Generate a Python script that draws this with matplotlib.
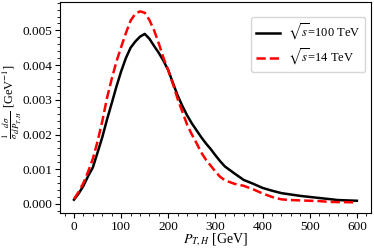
import matplotlib
matplotlib.use("Agg")
import matplotlib.pyplot as plt
from matplotlib.ticker import AutoMinorLocator

plt.rcParams['font.family'] = ['Liberation Serif', 'DejaVu Serif']
plt.rcParams['mathtext.fontset'] = 'stix'

# P_T,H bins [GeV]
pt = [0, 10, 20, 30, 40, 50, 60, 70, 80, 90, 100, 110, 120, 130, 140, 150,
      160, 170, 180, 190, 200, 210, 220, 230, 240, 250, 260, 270, 280, 290,
      300, 310, 320, 340, 360, 380, 400, 420, 440, 460, 480, 500, 520, 540,
      560, 580, 600]

# sqrt(s) = 100 TeV
dist_100 = [0.00012, 0.00030, 0.00052, 0.00080, 0.00105, 0.00148, 0.00192,
            0.00243, 0.00290, 0.00338, 0.00382, 0.00420, 0.00450, 0.00468,
            0.00482, 0.00490, 0.00476, 0.00455, 0.00435, 0.00412, 0.00385,
            0.00348, 0.00312, 0.00282, 0.00255, 0.00232, 0.00212, 0.00192,
            0.00174, 0.00158, 0.00140, 0.00123, 0.00108, 0.00088, 0.00069,
            0.00058, 0.00046, 0.00038, 0.00031, 0.00027, 0.00023, 0.00020,
            0.00017, 0.00014, 0.00011, 0.00010, 0.00009]

# sqrt(s) = 14 TeV
dist_14 = [0.00014, 0.00035, 0.00060, 0.00093, 0.00130, 0.00180, 0.00238,
           0.00305, 0.00360, 0.00410, 0.00452, 0.00492, 0.00528, 0.00548,
           0.00555, 0.00551, 0.00530, 0.00500, 0.00462, 0.00420, 0.00385,
           0.00345, 0.00302, 0.00265, 0.00228, 0.00200, 0.00175, 0.00148,
           0.00127, 0.00110, 0.00093, 0.00078, 0.00068, 0.00058, 0.00052,
           0.00042, 0.00030, 0.00020, 0.00013, 0.00011, 0.00010, 0.00009,
           0.00008, 0.00006, 0.00005, 0.00005, 0.00004]

fig = plt.figure(figsize=(3.74, 2.49), dpi=100)
ax = fig.add_axes([0.160, 0.145, 0.832, 0.847])

ax.plot(pt, dist_100, color='black', lw=1.8, label=r'$\sqrt{s}$=100 TeV')
ax.plot(pt, dist_14, color='red', lw=1.8, ls='--', label=r'$\sqrt{s}$=14 TeV')

ax.set_xlim(-30, 630)
ax.set_ylim(-0.00026, 0.00582)
ax.set_xticks([0, 100, 200, 300, 400, 500, 600])
ax.set_yticks([0.000, 0.001, 0.002, 0.003, 0.004, 0.005])
ax.set_yticklabels(['0.000', '0.001', '0.002', '0.003', '0.004', '0.005'])
ax.xaxis.set_minor_locator(AutoMinorLocator(5))
ax.yaxis.set_minor_locator(AutoMinorLocator(5))
ax.tick_params(which='both', direction='out', labelsize=9.5)
ax.tick_params(which='major', length=3.5, width=0.8, pad=2)
ax.tick_params(which='minor', length=2, width=0.6)

ax.set_xlabel(r'$P_{T,H}$ [GeV]', fontsize=10, va='center')
ax.xaxis.set_label_coords(0.5, -0.128)
ax.set_ylabel(r'$\frac{1}{\sigma}\frac{d\sigma}{dP_{T,H}}$ [GeV$^{-1}$]',
              fontsize=9, va='center')
ax.yaxis.set_label_coords(-0.155, 0.53)

ax.legend(loc='upper right', bbox_to_anchor=(0.981, 0.929), borderaxespad=0,
          fontsize=9, handlelength=1.9, labelspacing=0.35, handletextpad=0.6,
          borderpad=0.4)

fig.savefig('out.png', dpi=100)
